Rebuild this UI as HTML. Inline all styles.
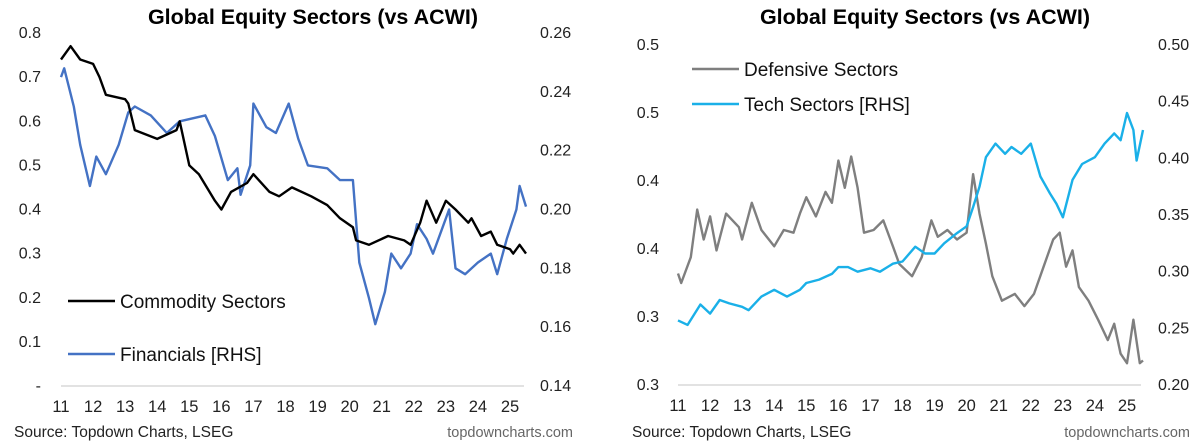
<!DOCTYPE html>
<html><head><meta charset="utf-8"><style>
html,body{margin:0;padding:0;background:#fff;}
body{width:1200px;height:442px;overflow:hidden;font-family:"Liberation Sans",Arial,sans-serif;}
svg text{font-family:"Liberation Sans",Arial,sans-serif;}
</style></head><body>
<svg id="c" width="1200" height="442" xmlns="http://www.w3.org/2000/svg">
<g id="left"></g>
<g id="right"></g>
</svg>
<script>
// Left chart data
const commYears = [11.0,11.3,11.6,12.0,12.2,12.4,13.0,13.1,13.3,14.0,14.6,14.7,15.0,15.3,15.8,16.0,16.3,16.8,17.0,17.5,17.8,18.2,18.8,19.3,19.7,20.1,20.2,20.6,21.2,21.7,21.9,22.2,22.4,22.7,23.0,23.3,23.7,23.8,24.1,24.4,24.6,25.0,25.1,25.3,25.5];
const commValues = [0.74,0.77,0.74,0.73,0.70,0.66,0.65,0.64,0.58,0.56,0.58,0.60,0.50,0.48,0.42,0.40,0.44,0.46,0.48,0.44,0.43,0.45,0.43,0.41,0.38,0.36,0.33,0.32,0.34,0.33,0.32,0.37,0.42,0.37,0.42,0.40,0.37,0.38,0.34,0.35,0.32,0.31,0.30,0.32,0.30];
const finYears = [11.0,11.1,11.4,11.6,11.9,12.1,12.4,12.8,13.1,13.3,13.8,14.3,14.7,15.5,15.8,16.2,16.5,16.6,16.9,17.0,17.4,17.7,18.1,18.4,18.7,19.3,19.7,20.1,20.3,20.6,20.8,21.1,21.3,21.6,21.9,22.1,22.4,22.6,23.0,23.1,23.3,23.6,24.0,24.4,24.6,24.9,25.2,25.3,25.5];
const finValues = [0.245,0.248,0.235,0.222,0.208,0.218,0.212,0.222,0.233,0.235,0.232,0.226,0.230,0.232,0.225,0.210,0.214,0.205,0.215,0.236,0.228,0.226,0.236,0.224,0.215,0.214,0.210,0.210,0.182,0.170,0.161,0.172,0.185,0.180,0.185,0.195,0.190,0.185,0.197,0.200,0.180,0.178,0.182,0.185,0.178,0.190,0.200,0.208,0.201];
const leftLTicks = ["-","0.1","0.2","0.3","0.4","0.5","0.6","0.7","0.8"];
const leftRTicks = ["0.14","0.16","0.18","0.20","0.22","0.24","0.26"];
const xYears = ["11","12","13","14","15","16","17","18","19","20","21","22","23","24","25"];
// Right chart data
const defYears = [11.0,11.1,11.4,11.6,11.8,12.0,12.2,12.5,12.9,13.0,13.3,13.6,14.0,14.3,14.6,14.8,15.0,15.3,15.6,15.8,16.0,16.2,16.4,16.6,16.8,17.1,17.4,17.7,17.9,18.3,18.6,18.9,19.1,19.4,19.7,20.0,20.2,20.4,20.6,20.8,21.1,21.5,21.8,22.1,22.4,22.7,22.9,23.1,23.3,23.5,23.8,24.1,24.4,24.6,24.8,25.0,25.2,25.4,25.5];
const defValues = [0.332,0.325,0.344,0.379,0.357,0.374,0.349,0.376,0.366,0.357,0.384,0.364,0.352,0.364,0.362,0.376,0.388,0.374,0.392,0.384,0.415,0.395,0.418,0.395,0.362,0.364,0.371,0.352,0.339,0.330,0.344,0.371,0.359,0.364,0.357,0.362,0.405,0.376,0.354,0.330,0.312,0.317,0.308,0.317,0.337,0.357,0.362,0.337,0.349,0.322,0.312,0.298,0.283,0.295,0.273,0.266,0.298,0.266,0.268];
const techYears = [11.0,11.3,11.7,12.0,12.3,12.6,13.0,13.2,13.6,14.0,14.4,14.8,15.0,15.4,15.8,16.0,16.3,16.6,17.0,17.3,17.7,18.0,18.4,18.7,19.0,19.3,19.7,20.0,20.2,20.4,20.6,20.9,21.2,21.4,21.7,22.0,22.3,22.6,22.8,23.0,23.3,23.6,24.0,24.3,24.6,24.8,25.0,25.2,25.3,25.5];
const techValues = [0.257,0.253,0.271,0.263,0.275,0.272,0.269,0.266,0.278,0.284,0.278,0.284,0.290,0.293,0.298,0.304,0.304,0.300,0.303,0.300,0.307,0.309,0.322,0.316,0.316,0.325,0.334,0.340,0.357,0.375,0.401,0.413,0.404,0.410,0.404,0.413,0.384,0.369,0.360,0.348,0.381,0.395,0.401,0.413,0.422,0.416,0.440,0.425,0.398,0.425];
const rightLTicks = ["0.3","0.3","0.4","0.4","0.5","0.5"];
const rightRTicks = ["0.20","0.25","0.30","0.35","0.40","0.45","0.50"];

const NS="http://www.w3.org/2000/svg";
function mk(parent,tag,attrs,text){const e=document.createElementNS(NS,tag);for(const k in attrs)e.setAttribute(k,attrs[k]);if(text!==undefined)e.textContent=text;parent.appendChild(e);return e;}

function drawChart(g,o){
  const x=v=>o.x0+(v-11)*(o.x25-o.x0)/14;
  const yL=v=>o.yBot-(v-o.lMin)*(o.yBot-o.yTop)/(o.lMax-o.lMin);
  const yR=v=>o.yBot-(v-o.rMin)*(o.yBot-o.yTop)/(o.rMax-o.rMin);
  let t=mk(g,'text',{x:o.titleX,y:24,'text-anchor':'middle','font-size':'21.5','font-weight':'bold',fill:'#000'},'Global Equity Sectors (vs ACWI)');
  
  
  let ax=mk(g,'line',{x1:o.x0,x2:o.xEnd,y1:o.yBot,y2:o.yBot,stroke:'#d9d9d9','stroke-width':'1.5'});
  
  
  o.lTicks.forEach((lab,i)=>{
    const yy=o.yBot-i*(o.yBot-o.yTop)/(o.lTicks.length-1);
    const e=mk(g,'text',{x:o.lLabX,y:yy+5,'text-anchor':'end','font-size':'16',fill:'#222'},lab);
    
    
  });
  o.rTicks.forEach((lab,i)=>{
    const yy=o.yBot-i*(o.yBot-o.yTop)/(o.rTicks.length-1);
    const e=mk(g,'text',{x:o.rLabX,y:yy+5,'text-anchor':'start','font-size':'16',fill:'#222'},lab);
    
    
  });
  xYears.forEach(lab=>{
    const e=mk(g,'text',{x:x(+lab),y:o.yBot+26,'text-anchor':'middle','font-size':'16.5',fill:'#222'},lab);
    
    
  });
  o.series.forEach(s=>{
    const sc=s.axis==='L'?yL:yR;
    const d=s.xs.map((v,i)=>(i?'L':'M')+x(v).toFixed(1)+','+sc(s.ys[i]).toFixed(1)).join(' ');
    const p=mk(g,'path',{d:d,fill:'none',stroke:s.color,'stroke-width':'2.4','stroke-linejoin':'round'});
    
    
  });
  o.legend.forEach(l=>{
    const lg=mk(g,'g',{});
    
    
    mk(lg,'line',{x1:l.x,x2:l.x+47,y1:l.y,y2:l.y,stroke:l.color,'stroke-width':'2.4'});
    mk(lg,'text',{x:l.x+52,y:l.y+7,'font-size':'19',fill:'#111'},l.text);
  });
  let s1=mk(g,'text',{x:o.srcX,y:437,'font-size':'15.5',fill:'#222'},'Source: Topdown Charts, LSEG');
  
  
  let s2=mk(g,'text',{x:o.webX,y:437,'text-anchor':'end','font-size':'14.5',fill:'#666'},'topdowncharts.com');
  
  
}

drawChart(document.getElementById('left'),{
  titleX:313,x0:61,x25:510,xEnd:524,yTop:33,yBot:386,
  lMin:0,lMax:0.8,rMin:0.14,rMax:0.26,lTicks:leftLTicks,rTicks:leftRTicks,lLabX:41,rLabX:540,
  series:[{xs:finYears,ys:finValues,axis:'R',color:'#4472c4',name:'financials-line'},
          {xs:commYears,ys:commValues,axis:'L',color:'#000',name:'commodity-line'}],
  legend:[{x:68,y:301,color:'#000',text:'Commodity Sectors'},{x:68,y:354,color:'#4472c4',text:'Financials [RHS]'}],
  srcX:14,webX:573
});
drawChart(document.getElementById('right'),{
  titleX:925,x0:678,x25:1127,xEnd:1141,yTop:45,yBot:385,
  lMin:0.25,lMax:0.50,rMin:0.20,rMax:0.50,lTicks:rightLTicks,rTicks:rightRTicks,lLabX:659,rLabX:1158,
  series:[{xs:defYears,ys:defValues,axis:'L',color:'#7f7f7f',name:'defensive-line'},
          {xs:techYears,ys:techValues,axis:'R',color:'#1ab0e8',name:'tech-line'}],
  legend:[{x:692,y:69,color:'#7f7f7f',text:'Defensive Sectors'},{x:692,y:104,color:'#1ab0e8',text:'Tech Sectors [RHS]'}],
  srcX:632,webX:1190
});
</script>
</body></html>
